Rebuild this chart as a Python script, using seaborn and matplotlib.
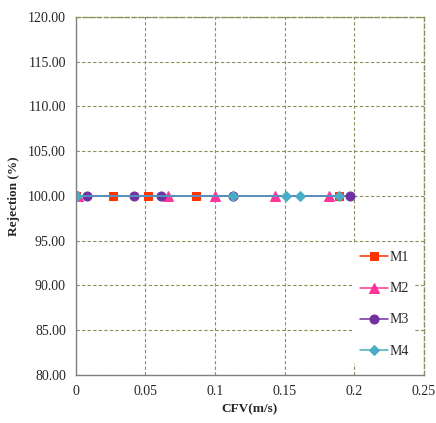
import matplotlib
matplotlib.use("Agg")
import matplotlib.pyplot as plt
import numpy as np
import pandas as pd
import seaborn as sns

# 数据：四种膜的截留率随错流速度变化
m1_cfv = [0.0, 0.027, 0.052, 0.086, 0.189]
m1_rej = [100.0, 100.0, 100.0, 100.0, 100.0]
m2_cfv = [0.002, 0.066, 0.100, 0.143, 0.182]
m2_rej = [100.0, 100.0, 100.0, 100.0, 100.0]
m3_cfv = [0.008, 0.042, 0.061, 0.113, 0.197]
m3_rej = [100.0, 100.0, 100.0, 100.0, 100.0]
m4_cfv = [0.001, 0.113, 0.151, 0.161, 0.189]
m4_rej = [100.0, 100.0, 100.0, 100.0, 100.0]

labels = ["M1", "M2", "M3", "M4"]
x_ticks = [0, 0.05, 0.1, 0.15, 0.2, 0.25]
x_tick_labels = ["0", "0.05", "0.1", "0.15", "0.2", "0.25"]
y_ticks = [80, 85, 90, 95, 100, 105, 110, 115, 120]

sns.set_style("white")
plt.rcParams['font.family'] = ['Liberation Serif', 'DejaVu Serif']

colors = ['#FF3300', '#FF3399', '#7030A0', '#4BACC6']
dots = ['s', '^', 'o', 'D']
sizes = [6, 6.5, 6.5, 5]

fig = plt.figure(figsize=(4.36, 4.23), dpi=100)
ax = fig.add_axes([0.1736, 0.1135, 0.799, 0.8465])

frames = []
for lab, xs, ys in zip(labels, [m1_cfv, m2_cfv, m3_cfv, m4_cfv], [m1_rej, m2_rej, m3_rej, m4_rej]):
    frames.append(pd.DataFrame({"CFV": xs, "Rejection": ys, "Membrane": lab}))
df = pd.concat(frames, ignore_index=True)

for i, lab in enumerate(labels):
    sub = df[df["Membrane"] == lab]
    sns.lineplot(data=sub, x="CFV", y="Rejection", ax=ax, color=colors[i], marker=dots[i],
                 markersize=sizes[i], markeredgecolor=colors[i], linewidth=1.1,
                 label=lab, sort=True, estimator=None)

ax.set_xlim(0, 0.25)
ax.set_ylim(80, 120)
ax.set_xticks(x_ticks)
ax.set_xticklabels(x_tick_labels)
ax.set_yticks(y_ticks)
ax.set_yticklabels(["%.2f" % v for v in y_ticks])
ax.tick_params(axis='both', length=0, labelsize=10, pad=7)

# 网格为虚线
ax.grid(True, linestyle=(0, (3, 2)), color='#8f8f5a', linewidth=0.8)
for s in ax.spines.values():
    s.set_color('#808080')
    s.set_linewidth(1.0)
ax.spines['top'].set_linestyle((0, (3, 2)))
ax.spines['right'].set_linestyle((0, (3, 2)))
ax.spines['top'].set_color('#8f8f5a')
ax.spines['right'].set_color('#8f8f5a')

ax.set_xlabel('CFV(m/s)', fontweight='bold', fontsize=9.5, labelpad=4)
ax.set_ylabel('Rejection (%)', fontweight='bold', fontsize=9.5, labelpad=6)

leg = ax.legend(loc='lower right', bbox_to_anchor=(0.995, 0.01), frameon=True,
                fontsize=10, labelspacing=1.3, handlelength=2.0, handletextpad=0.1,
                borderpad=0.5, facecolor='white', edgecolor='white', framealpha=1.0)
leg.get_frame().set_linewidth(0)

fig.savefig("out.png", dpi=100)
